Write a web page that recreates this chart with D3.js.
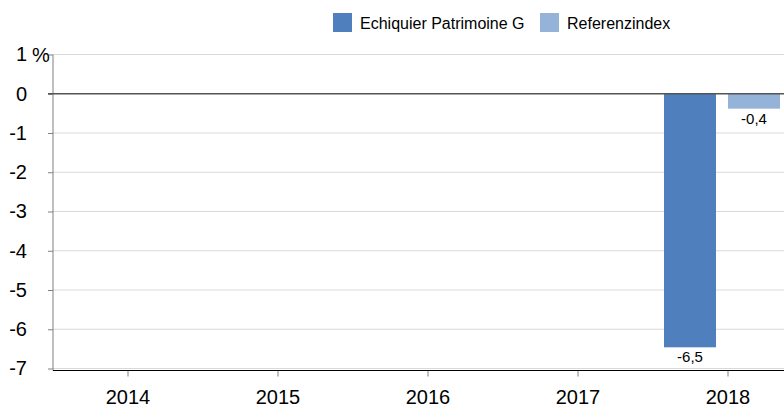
<!DOCTYPE html>
<html>
<head>
<meta charset="utf-8">
<script src="https://cdn.jsdelivr.net/npm/d3@7.9.0/dist/d3.min.js"></script>
<style>
  body { margin: 0; background: #fff; }
  svg { display: block; font-family: Arial, "Liberation Sans", sans-serif; }
</style>
</head>
<body>
<svg id="chart" width="784" height="409"></svg>
<script>
// data
const years = ['2014', '2015', '2016', '2017', '2018'];
const seriesNames = ['Echiquier Patrimoine G', 'Referenzindex'];
const fundValues = [null, null, null, null, -6.46];
const indexValues = [null, null, null, null, -0.38];
const yTicks = [1, 0, -1, -2, -3, -4, -5, -6, -7];
const colors = ['#4f7fbd', '#95b3d9'];

const svg = d3.select('#chart');
const width = 784;
const left = 53;

// scales
const x = d3.scaleBand().domain(years).range([left, left + 150 * years.length]);
const x1 = d3.scaleBand().domain(seriesNames).range([11, 127]).paddingInner(0.1875);
const y = d3.scaleLinear().domain([-7, 1]).range([368.5, 54.5]);

// gridlines
svg.append('g')
  .selectAll('line')
  .data(yTicks.filter(d => d !== 0))
  .join('line')
  .attr('x1', left).attr('x2', width)
  .attr('y1', d => y(d)).attr('y2', d => y(d))
  .attr('stroke', '#d9d9d9');

// bars
const rows = years.map((yr, i) => ({ year: yr, vals: [fundValues[i], indexValues[i]] }));
rows.forEach(r => {
  r.vals.forEach((v, s) => {
    if (v === null) return;
    const bx = x(r.year) + x1(seriesNames[s]);
    svg.append('rect')
      .attr('x', bx)
      .attr('y', y(Math.max(0, v)))
      .attr('width', x1.bandwidth())
      .attr('height', Math.abs(y(v) - y(0)))
      .attr('fill', colors[s]);
    svg.append('text')
      .attr('x', bx + x1.bandwidth() / 2)
      .attr('y', y(v) + 15)
      .attr('text-anchor', 'middle')
      .attr('font-size', 15)
      .attr('fill', '#000')
      .text(v.toFixed(1).replace('.', ','));
  });
});

// y axis
const yAxis = svg.append('g')
  .attr('transform', `translate(${left},0)`)
  .call(d3.axisLeft(y).tickValues(yTicks).tickSize(5).tickPadding(21).tickFormat(d => d));
yAxis.select('.domain').remove();
yAxis.selectAll('.tick line').attr('stroke', '#808080');
yAxis.selectAll('.tick text').attr('font-size', 20).attr('fill', '#000').attr('font-family', null);
svg.append('text')
  .attr('x', 32).attr('y', y(1) + 7)
  .attr('font-size', 20)
  .text('%');
svg.append('line')
  .attr('x1', left).attr('x2', left)
  .attr('y1', y(1)).attr('y2', 370.5)
  .attr('stroke', '#808080');

// zero line
svg.append('line')
  .attr('x1', left - 5).attr('x2', width)
  .attr('y1', y(0)).attr('y2', y(0))
  .attr('stroke', '#555').attr('stroke-width', 1.5);

// x axis
const xAxis = svg.append('g')
  .attr('transform', 'translate(0,370.5)')
  .call(d3.axisBottom(x).tickSize(6).tickPadding(13));
xAxis.select('.domain').remove();
xAxis.selectAll('.tick line').attr('stroke', '#808080');
xAxis.selectAll('.tick text').attr('font-size', 20).attr('fill', '#000').attr('font-family', null);
svg.append('line')
  .attr('x1', left).attr('x2', width)
  .attr('y1', 370.5).attr('y2', 370.5)
  .attr('stroke', '#000');

// legend
const legendX = [333, 540];
seriesNames.forEach((name, i) => {
  svg.append('rect')
    .attr('x', legendX[i]).attr('y', 13)
    .attr('width', 19).attr('height', 19)
    .attr('fill', colors[i]);
  svg.append('text')
    .attr('x', legendX[i] + 27).attr('y', 29)
    .attr('font-size', 16)
    .text(name);
});
</script>
</body>
</html>
